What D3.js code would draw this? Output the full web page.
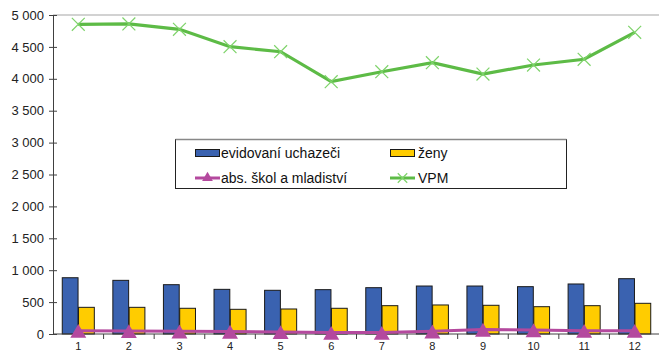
<!DOCTYPE html>
<html><head><meta charset="utf-8">
<script src="https://cdn.jsdelivr.net/npm/d3@7/dist/d3.min.js"></script>
<style>
body{margin:0;background:#fff;}
svg{display:block;font-family:"Liberation Sans",Arial,sans-serif;}
</style></head>
<body><svg id="c" width="659" height="352"></svg>
<script>
const months = ["1","2","3","4","5","6","7","8","9","10","11","12"];
const uchazeci = [882, 841, 773, 700, 685, 695, 726, 752, 752, 742, 784, 867];
const zeny = [418, 418, 403, 387, 392, 403, 444, 455, 450, 428, 444, 481];
const absolventi = [52, 48, 42, 38, 32, 22, 22, 42, 70, 62, 52, 52];
const vpm = [4854, 4860, 4776, 4503, 4425, 3955, 4111, 4252, 4075, 4216, 4306, 4729];
const yTicks = [0,500,1000,1500,2000,2500,3000,3500,4000,4500,5000];
const legendLabels = ["evidovaní uchazeči","ženy","abs. škol a mladiství","VPM"];

const C = {blue:"#3a62b0", yellow:"#ffcc00", purple:"#b4499e", green:"#5dbb46", greenMark:"#7ed36a"};
const svg = d3.select("#c");
const L=53, R=660, T=15, B=334;
const x = d3.scaleBand().domain(months).range([L,R]).paddingInner(0.347).paddingOuter(0.1735);
const xs = d3.scaleBand().domain(["u","z"]).range([0,x.bandwidth()]).padding(0.03);
const y = d3.scaleLinear().domain([0,5000]).range([B,T]);
const loc = d3.formatLocale({thousands:"\u00a0",grouping:[3],decimal:",",currency:["",""]});
const fmt = loc.format(",");

// top frame line
svg.append("line").attr("x1",L).attr("x2",659).attr("y1",T).attr("y2",T).attr("stroke","#a6a6a6").attr("stroke-width",1.2);

// bars
const g = svg.append("g");
g.selectAll("rect.u").data(uchazeci).join("rect").attr("class","u")
 .attr("x",(d,i)=>x(months[i])+xs("u")).attr("width",xs.bandwidth())
 .attr("y",d=>y(d)).attr("height",d=>B-y(d))
 .attr("fill",C.blue).attr("stroke","#1a1a1a").attr("stroke-width",1);
g.selectAll("rect.z").data(zeny).join("rect").attr("class","z")
 .attr("x",(d,i)=>x(months[i])+xs("z")).attr("width",xs.bandwidth())
 .attr("y",d=>y(d)).attr("height",d=>B-y(d))
 .attr("fill",C.yellow).attr("stroke","#1a1a1a").attr("stroke-width",1);

// axes
const yAxis = svg.append("g").attr("transform",`translate(${L},0)`)
 .call(d3.axisLeft(y).tickValues(yTicks).tickFormat(fmt).tickSize(4).tickSizeOuter(0));
yAxis.selectAll(".tick line").attr("x2",4).attr("x1",-4);
yAxis.select(".domain").attr("stroke","#404040");
yAxis.selectAll(".tick line").attr("stroke","#404040");
yAxis.selectAll("text").attr("font-size",13).attr("fill","#222").attr("x",-9).attr("font-family","Liberation Sans, Arial, sans-serif");

const xAxis = svg.append("g").attr("transform",`translate(0,${B})`);
xAxis.append("line").attr("x1",L).attr("x2",659).attr("stroke","#404040");
xAxis.selectAll("line.t").data(months.slice(1)).join("line").attr("class","t")
 .attr("x1",d=>x(d)-x.step()*x.paddingInner()/2).attr("x2",d=>x(d)-x.step()*x.paddingInner()/2)
 .attr("y1",0).attr("y2",5).attr("stroke","#404040");
xAxis.selectAll("text").data(months).join("text")
 .attr("x",d=>x(d)+x.bandwidth()/2).attr("y",16).attr("text-anchor","middle")
 .attr("font-size",11).attr("fill","#222").text(d=>d);

// lines
const cx = (i)=>x(months[i])+x.bandwidth()/2;
const line = d3.line().x((d,i)=>cx(i)).y(d=>y(d));
svg.append("path").datum(absolventi).attr("d",line).attr("fill","none").attr("stroke",C.purple).attr("stroke-width",3);
const tri = d3.symbol().type(d3.symbolTriangle).size(110);
svg.selectAll("path.tri").data(absolventi).join("path").attr("class","tri")
 .attr("d",tri).attr("transform",(d,i)=>`translate(${cx(i)},${y(d)+2.5})`).attr("fill",C.purple);

svg.append("path").datum(vpm).attr("d",line).attr("fill","none").attr("stroke",C.green).attr("stroke-width",3.2);
const cross = d3.symbol().type(d3.symbolX).size(110);
svg.selectAll("path.x").data(vpm).join("path").attr("class","x")
 .attr("d",cross).attr("transform",(d,i)=>`translate(${cx(i)},${y(d)})`)
 .attr("fill","none").attr("stroke",C.greenMark).attr("stroke-width",1.2);

// legend
const lg = svg.append("g");
lg.append("rect").attr("x",175.5).attr("y",139.5).attr("width",391).attr("height",49).attr("fill","#fff").attr("stroke","#222").attr("stroke-width",1);
lg.append("line").attr("x1",175.5).attr("x2",566.5).attr("y1",139.5).attr("y2",139.5).attr("stroke","#888").attr("stroke-width",1.5);
const pos = [[195,153],[391,153],[195,178],[391,178]];
lg.append("rect").attr("x",195.5).attr("y",149.5).attr("width",24).attr("height",7).attr("fill",C.blue).attr("stroke","#1a1a1a");
lg.append("rect").attr("x",390.5).attr("y",149.5).attr("width",24).attr("height",7).attr("fill",C.yellow).attr("stroke","#1a1a1a");
lg.append("line").attr("x1",195).attr("x2",220).attr("y1",178).attr("y2",178).attr("stroke",C.purple).attr("stroke-width",3);
lg.append("path").attr("d",d3.symbol().type(d3.symbolTriangle).size(50)).attr("transform","translate(207.5,178)").attr("fill",C.purple);
lg.append("line").attr("x1",390).attr("x2",415).attr("y1",178).attr("y2",178).attr("stroke",C.green).attr("stroke-width",3);
lg.append("path").attr("d",d3.symbol().type(d3.symbolX).size(60)).attr("transform","translate(402.5,178)").attr("fill","none").attr("stroke",C.greenMark).attr("stroke-width",1.2);
lg.selectAll("text").data(legendLabels).join("text")
 .attr("x",(d,i)=>pos[i][0]+(i%2?27:26)).attr("y",(d,i)=>pos[i][1]+5)
 .attr("font-size",14).attr("fill","#111").text(d=>d);
</script></body></html>
